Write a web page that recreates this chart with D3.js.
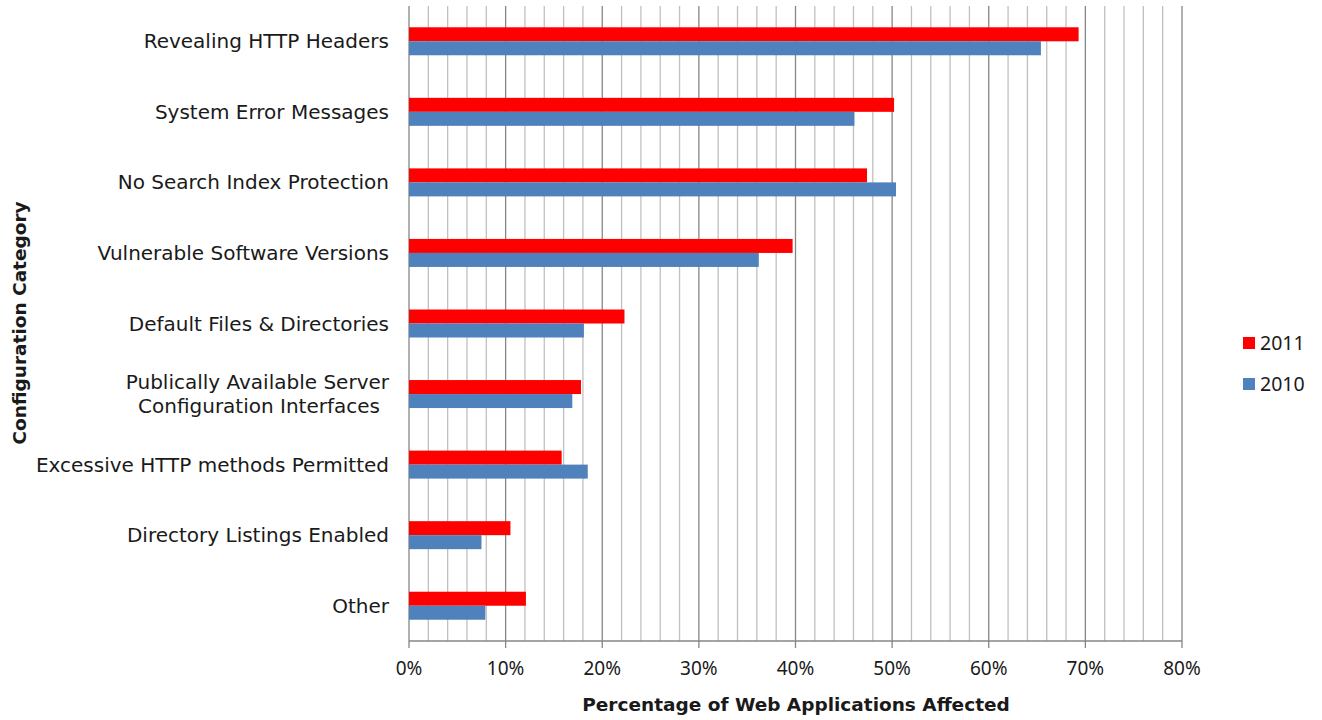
<!DOCTYPE html>
<html>
<head>
<meta charset="utf-8">
<script src="https://cdnjs.cloudflare.com/ajax/libs/d3/7.8.5/d3.min.js"></script>
<style>
  html, body { margin: 0; padding: 0; background: #fff; }
  svg { display: block; }
  text { font-family: "DejaVu Sans", "Noto Sans", sans-serif; fill: #1a1a1a; }
  .tick-label { font-family: "Noto Sans", "DejaVu Sans", sans-serif; }
</style>
</head>
<body>
<svg id="chart" width="1322" height="720"></svg>
<script>
// Configuration categories, listed top to bottom
const categories = [
  "Revealing HTTP Headers",
  "System Error Messages",
  "No Search Index Protection",
  "Vulnerable Software Versions",
  "Default Files & Directories",
  "Publically Available Server|Configuration Interfaces",
  "Excessive HTTP methods Permitted",
  "Directory Listings Enabled",
  "Other"
];
// Percentage of web applications affected, per year
const values2011 = [69.3, 50.2, 47.4, 39.7, 22.3, 17.8, 15.8, 10.5, 12.1];
const values2010 = [65.4, 46.1, 50.4, 36.2, 18.1, 16.9, 18.5, 7.5, 7.9];
const seriesNames = ["2011", "2010"];
const seriesColors = ["#ff0000", "#4f81bd"];
const xTicks = [0, 10, 20, 30, 40, 50, 60, 70, 80];

const svg = d3.select("#chart");
const plotLeft = 409, plotRight = 1182, plotTop = 6, plotBottom = 641;

const x = d3.scaleLinear().domain([0, 80]).range([plotLeft, plotRight]);
const y = d3.scaleBand().domain(categories).range([plotTop, plotBottom]);
const sub = d3.scaleBand().domain(seriesNames).range([0, 28]);

// Minor gridlines every 2%
const minor = d3.range(2, 81, 2).filter(v => v % 10 !== 0);
svg.append("g").selectAll("line").data(minor).join("line")
  .attr("x1", d => x(d)).attr("x2", d => x(d))
  .attr("y1", plotTop).attr("y2", plotBottom)
  .attr("stroke", "#c0c0c0").attr("stroke-width", 1.3);

// Major gridlines every 10%, with ticks below the axis
svg.append("g").selectAll("line").data(xTicks).join("line")
  .attr("x1", d => x(d)).attr("x2", d => x(d))
  .attr("y1", plotTop).attr("y2", plotBottom + 7)
  .attr("stroke", "#868686").attr("stroke-width", 1.3);

// Bottom axis line
svg.append("line")
  .attr("x1", plotLeft).attr("x2", plotRight)
  .attr("y1", plotBottom).attr("y2", plotBottom)
  .attr("stroke", "#868686").attr("stroke-width", 1.3);

// Bars
const rows = categories.map((c, i) => ({ c, vals: [values2011[i], values2010[i]] }));
const groups = svg.append("g").selectAll("g").data(rows).join("g")
  .attr("transform", d => `translate(0,${y(d.c) + y.bandwidth() / 2 - 14})`);
groups.selectAll("rect").data(d => d.vals.map((v, k) => ({ v, k })))
  .join("rect")
  .attr("x", x(0))
  .attr("y", d => sub(seriesNames[d.k]))
  .attr("width", d => x(d.v) - x(0))
  .attr("height", sub.bandwidth())
  .attr("fill", d => seriesColors[d.k]);

// Category labels (right aligned, may wrap onto two lines)
const labels = svg.append("g").selectAll("text").data(categories).join("text")
  .attr("text-anchor", "end")
  .attr("font-size", 20)
  .attr("transform", d => `translate(389,${y(d) + y.bandwidth() / 2})`);
labels.each(function (d) {
  const parts = d.split("|");
  const t = d3.select(this);
  parts.forEach((p, i) => {
    t.append("tspan")
      .attr("x", i === 1 ? -9 : 0)
      .attr("y", (i - (parts.length - 1) / 2) * 24)
      .attr("dy", "0.35em")
      .text(p);
  });
});

// X tick labels
svg.append("g").selectAll("text").data(xTicks).join("text")
  .attr("class", "tick-label")
  .attr("x", d => x(d)).attr("y", 668)
  .attr("dy", "0.35em")
  .attr("text-anchor", "middle")
  .attr("font-size", 19)
  .text(d => d + "%");

// Axis titles
svg.append("text")
  .attr("x", 796).attr("y", 705).attr("dy", "0.35em")
  .attr("text-anchor", "middle")
  .attr("font-size", 18.5).attr("font-weight", "bold")
  .text("Percentage of Web Applications Affected");
svg.append("text")
  .attr("transform", "translate(20,323) rotate(-90)")
  .attr("dy", "0.35em")
  .attr("text-anchor", "middle")
  .attr("font-size", 18.5).attr("font-weight", "bold")
  .text("Configuration Category");

// Legend
const legend = svg.append("g").selectAll("g").data(seriesNames).join("g")
  .attr("transform", (d, i) => `translate(1243,${343 + i * 41})`);
legend.append("rect")
  .attr("x", 0).attr("y", -6).attr("width", 12).attr("height", 12)
  .attr("fill", (d, i) => seriesColors[i]);
legend.append("text")
  .attr("class", "tick-label")
  .attr("x", 17).attr("y", 0).attr("dy", "0.35em")
  .attr("font-size", 19.5)
  .text(d => d);
</script>
</body>
</html>
